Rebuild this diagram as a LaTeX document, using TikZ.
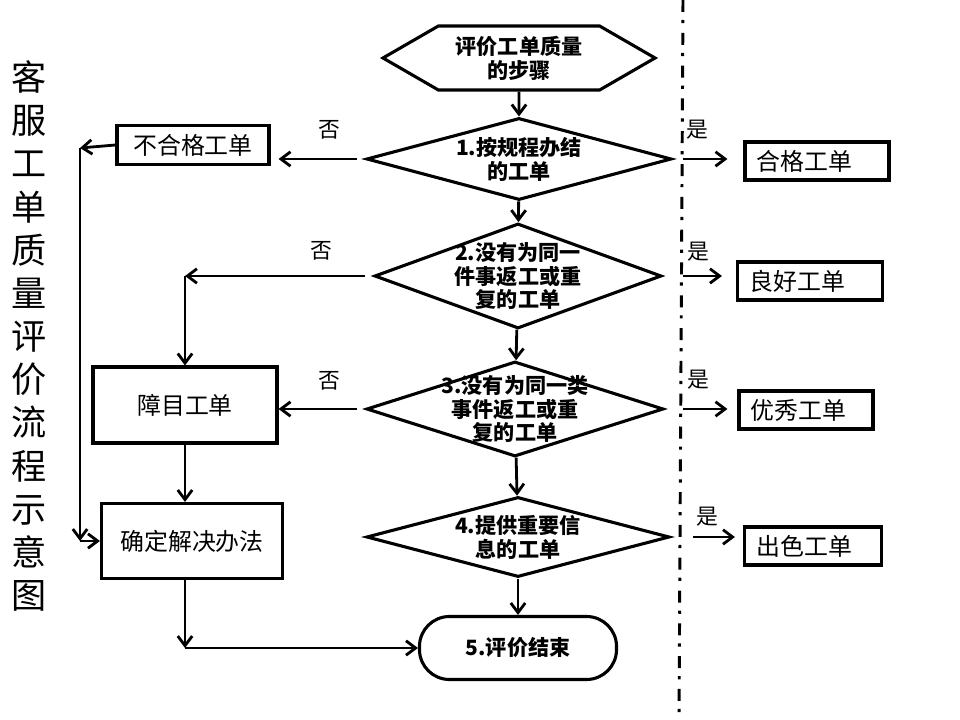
\documentclass[tikz,border=0pt]{standalone}
\usepackage{fontspec}
\newfontfamily\cjk{Noto Sans CJK SC}
\usetikzlibrary{
	arrows.meta,
	calc,
	positioning,
	shapes.geometric,
	shapes.symbols,
	}

\begin{document}
\begin{tikzpicture}[x=0.025cm, y=-0.025cm, font=\cjk,
		line width=2.2pt,
		arr/.style={-{Straight Barb[length=2.4mm,width=3.6mm]}, line width=2pt},
		decision/.style={draw, diamond, inner sep=0pt},
		inside/.style={align=center, font=\cjk\bfseries\fontsize{15}{17}\selectfont},
		box/.style={draw, rectangle, font=\cjk\fontsize{17}{19}\selectfont},
		result/.style={box, minimum height=0.95cm, inner xsep=0.3cm, align=left},
		tag/.style={font=\cjk\fontsize{15.5}{17}\selectfont},
		sep/.style={line width=2.1pt, dash pattern=on 0.3cm off 0.2cm on 0.08cm off 0.24cm}]
			\useasboundingbox (0,0) rectangle (960,720);

			\node[font=\cjk\fontsize{25}{30.7}\selectfont, align=center] (title) at (29,336)
				{客\\服\\工\\单\\质\\量\\评\\价\\流\\程\\示\\意\\图};

			% main column
			\node[draw, signal, signal to=west and east, signal pointer angle=60,
				minimum width=6.8cm, minimum height=1.6cm, inside] (start) at (519,58) {评价工单质量\\的步骤};
			\node[decision, minimum width=7.625cm, minimum height=2.05cm,
				label={[inside]center:{1.按规程办结\\的工单}}] (d1) at (519,159) {};
			\node[decision, minimum width=7.175cm, minimum height=2.625cm,
				label={[inside]center:{2.没有为同一\\件事返工或重\\复的工单}}] (d2) at (518,276) {};
			\node[decision, minimum width=7.425cm, minimum height=2.375cm,
				label={[inside]center:{3.没有为同一类\\事件返工或重\\复的工单}}] (d3) at (515,409) {};
			\node[decision, minimum width=7.575cm, minimum height=2cm,
				label={[inside]center:{4.提供重要信\\息的工单}}] (d4) at (518,537) {};
			\node[draw, rounded corners=0.75cm, minimum width=4.925cm, minimum height=1.575cm,
				inside] (stop) at (518,648) {5.评价结束};

			% left side
			\node[box, minimum width=3.8cm, minimum height=0.975cm] (bad) at (193,145) {不合格工单};
			\node[box, minimum width=4.6cm, minimum height=1.9cm] (blind) at (185,405) {障目工单};
			\node[box, minimum width=4.525cm, minimum height=1.875cm] (fix) at (192,541) {确定解决办法};

			% right side
			\node[result, text width=3cm] (ok1) at (817,161) {合格工单};
			\node[result, text width=3.025cm] (ok2) at (810,281) {良好工单};
			\node[result, text width=2.75cm] (ok3) at (806,410) {优秀工单};
			\node[result, text width=2.825cm] (ok4) at (813,546) {出色工单};

			\node[tag] (n1) at (329,130) {否};
			\node[tag] (n2) at (321,251) {否};
			\node[tag] (n3) at (329,381) {否};
			\node[tag] (y1) at (697,130) {是};
			\node[tag] (y2) at (698,252) {是};
			\node[tag] (y3) at (698,380) {是};
			\node[tag] (y4) at (707,517) {是};

			\coordinate (sepTop) at (683,0);
			\coordinate (sepBot) at (679,720);
			\coordinate (c1) at (80,148);
			\coordinate (c2) at (blind.north |- d2.west);
			\coordinate (c4) at (c1 |- fix.west);
			\coordinate (c5) at (blind.south |- stop.west);

			\draw[sep] (sepTop) -- (sepBot);

			\draw[arr] (start) -- (d1);
			\draw[arr] (d1) -- (d2);
			\draw[arr] (d2) -- (d3);
			\draw[arr] (d3) -- (d4);
			\draw[arr] (d4) -- (stop);

			\draw[arr, shorten <=0.2cm, shorten >=0.2cm] (d1.west) -- (d1.west -| bad.east);
			\draw[arr, shorten <=0.2cm] (d2.west) -- (c2);
			\draw[arr] (c2) -- (blind.north);
			\draw[arr, shorten <=0.2cm] (d3.west) -- (d3.west -| blind.east);

			\draw[arr] (bad.west) -- (c1);
			\draw[arr] (c1) -- (c4);
			\draw[arr] (c4) -- (fix.west);
			\draw[arr] (blind.south) -- (blind.south |- fix.north);
			\draw[arr] (blind.south |- fix.south) -- (c5);
			\draw[arr] (c5) -- (stop.west);

			\draw[arr, shorten >=0.4cm] (sepTop |- d1.east) -- (d1.east -| ok1.west);
			\draw[arr, shorten >=0.35cm] (sepTop |- d2.east) -- (d2.east -| ok2.west);
			\draw[arr, shorten >=0.25cm] (sepTop |- d3.east) -- (d3.east -| ok3.west);
			\draw[arr, shorten <=0.25cm, shorten >=0.2cm] (sepTop |- d4.east) -- (d4.east -| ok4.west);

		\end{tikzpicture}
\end{document}
